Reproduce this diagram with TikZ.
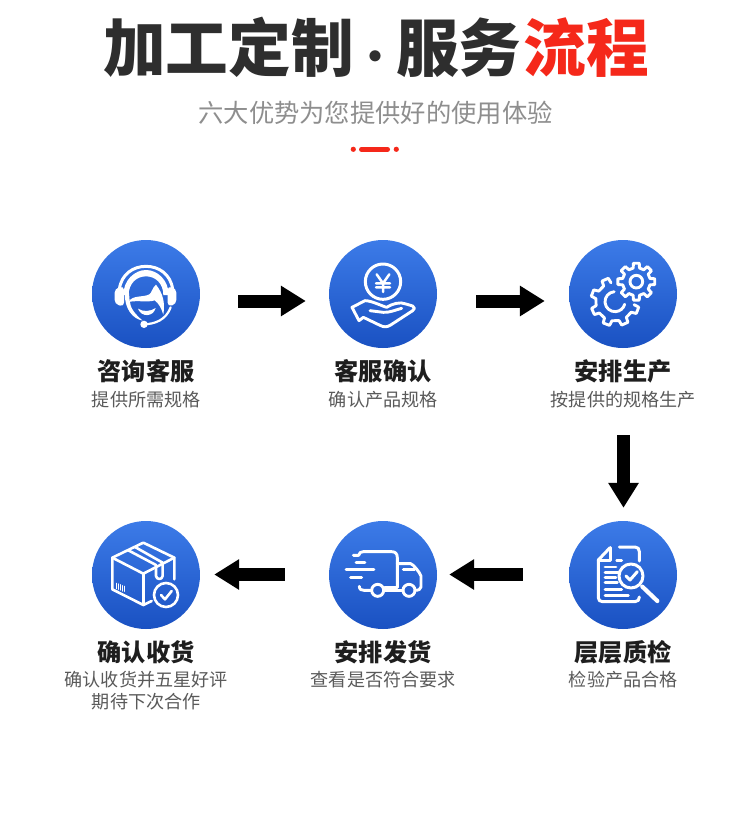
\documentclass[tikz,border=0pt]{standalone}
\usepackage{fontspec}
\setmainfont{Noto Sans CJK SC}
\usetikzlibrary{arrows.meta}
\definecolor{ttl}{HTML}{2E2E2E}
\definecolor{redc}{HTML}{F5281A}
\definecolor{subt}{HTML}{8E8E8E}
\definecolor{lab}{HTML}{1E1E1E}
\definecolor{sublab}{HTML}{5A5A5A}
\definecolor{topb}{HTML}{3C7BE8}
\definecolor{botb}{HTML}{1A51C2}
\tikzset{
 disc/.style={circle,minimum size=108pt,inner sep=0pt,top color=topb,bottom color=botb,draw=none},
 lbl/.style={inner sep=0pt,font=\fontsize{24.2}{28}\selectfont\bfseries,text=lab},
 sublbl/.style={inner sep=0pt,font=\fontsize{18.1}{22}\selectfont,text=sublab,align=center},
 blockarrow/.style={line width=13pt,draw=black,-{Triangle[width=29pt,length=25pt,sep=0pt]}},
 ic/.style={draw=white,line width=2.9pt,line cap=round,line join=round},
 zoomed/.style={x=0.33333pt,y=-0.33333pt}
}
\begin{document}
\begin{tikzpicture}[x=1pt,y=-1pt]
\useasboundingbox (0,0) rectangle (750,824);
\fill[white] (0,0) rectangle (750,824);
% heading
\node[inner sep=0pt,font=\fontsize{62.7}{70}\selectfont\bfseries,text=ttl] (title) at (376,47) {加工定制\hspace{1pt}{\fontsize{40}{40}\selectfont ·}\hspace{1pt}服务\hspace{2pt}\textcolor{redc}{流程}};
\node[inner sep=0pt,font=\fontsize{25.3}{30}\selectfont,text=subt] (subtitle) at (375.5,113) {六大优势为您提供好的使用体验};
\fill[redc] (353.3,149.3) circle (2.6);
\fill[redc] (396.3,149.3) circle (2.6);
\draw[redc,line width=5pt,line cap=round] (361.5,149.3) -- (387.5,149.3);
% discs
\node[disc] (n1) at (146,294) {};
\node[disc] (n2) at (383,294) {};
\node[disc] (n3) at (623,294) {};
\node[disc] (n4) at (623,575) {};
\node[disc] (n5) at (383,575) {};
\node[disc] (n6) at (146,575) {};
% labels
\node[lbl] (l1) at (146,371) {咨询客服};
\node[sublbl] (s1) at (146.2,400) {提供所需规格};
\node[lbl] (l2) at (383,371) {客服确认};
\node[sublbl] (s2) at (383.2,400) {确认产品规格};
\node[lbl] (l3) at (623,371) {安排生产};
\node[sublbl] (s3) at (623.2,400) {按提供的规格生产};
\node[lbl] (l4) at (623,652) {层层质检};
\node[sublbl] (s4) at (623.2,680) {检验产品合格};
\node[lbl] (l5) at (383,652) {安排发货};
\node[sublbl] (s5) at (383.2,680) {查看是否符合要求};
\node[lbl] (l6) at (146,652) {确认收货};
\node[sublbl] (s6a) at (146.2,680) {确认收货并五星好评};
\node[sublbl] (s6b) at (146.2,702) {期待下次合作};
% arrows
\draw[blockarrow,shorten <=38pt,shorten >=23pt] ([yshift=-7pt]n1.east) -- ([yshift=-7pt]n2.west);
\draw[blockarrow,shorten <=39pt,shorten >=24pt] ([yshift=-7pt]n2.east) -- ([yshift=-7pt]n3.west);
\draw[blockarrow,shorten <=87pt,shorten >=13pt] ([xshift=0.5pt]n3.south) -- ([xshift=0.5pt]n4.north);
\draw[blockarrow,shorten <=44pt,shorten >=14pt] ([yshift=0.5pt]n5.west) -- ([yshift=0.5pt]n6.east);
\draw[blockarrow,shorten <=46pt,shorten >=12pt] ([yshift=0.5pt]n4.west) -- ([yshift=0.5pt]n5.east);
% icon 1: headset
\begin{scope}[shift={(80,230)},zoomed]
\draw[ic,line width=3pt] (118,178) .. controls (124,132) and (160,109) .. (198,109) .. controls (236,109) and (272,132) .. (278,178);
\fill[white] (130,195) .. controls (130,150) and (165,120) .. (198,120) .. controls (232,120) and (266,150) .. (266,195) -- (250,195) .. controls (250,160) and (226,139) .. (198,139) .. controls (170,139) and (146,160) .. (146,195) -- cycle;
\fill[white,rounded corners=4pt] (104,176) -- (132,168) -- (132,230) -- (104,222) -- cycle;
\fill[white,rounded corners=4pt] (289,176) -- (263,168) -- (263,230) -- (289,222) -- cycle;
\fill[white] (146,216) .. controls (156,194) and (190,203) .. (208,193) .. controls (216,188) and (216,174) .. (228,164) .. controls (248,190) and (256,215) .. (250,254) .. controls (244,234) and (236,220) .. (224,211) .. controls (205,218) and (170,210) .. (146,216) -- cycle;
\fill[white] (134,190) .. controls (134,235) and (156,266) .. (188,272) .. controls (165,252) and (151,235) .. (149,213) -- (147,190) -- cycle;
\fill[white] (174,236) .. controls (190,246) and (210,245) .. (227,234) .. controls (220,262) and (183,262) .. (174,236) -- cycle;
\fill[white] (192,283) circle (11);
\draw[ic,line width=2.2pt] (192,283) .. controls (225,282) and (258,270) .. (272,232);
\end{scope}
% icon 2: coin in hand
\begin{scope}[shift={(320,230)},zoomed]
\draw[ic,line width=3pt] (189,155) circle (53);
\draw[ic,line width=2.5pt] (170,133) -- (189,160) -- (208,133) (168,160) -- (210,160) (168,172) -- (210,172) (189,160) -- (189,186);
\draw[ic] (96,232) -- (135,212) .. controls (155,212) and (185,228) .. (200,232) .. controls (215,222) and (240,214) .. (258,222) -- (278,228) .. controls (285,232) and (285,238) .. (278,242) -- (212,285) .. controls (200,292) and (192,292) .. (180,286) -- (130,262) -- (117,272) -- cycle;
\draw[ic] (150,242) -- (190,247) .. controls (210,248) and (225,240) .. (245,235);
\end{scope}
% icon 3: gears
\begin{scope}[shift={(560,230)},zoomed]
\begin{scope}[shift={(229,155)}]
\draw[ic] (0,0) circle (19);
\draw[ic] (-13:42) \foreach \a in {0,45,...,315}{ -- ({\a-13}:42) -- ({\a-9}:56) -- ({\a+9}:56) -- ({\a+13}:42) } -- cycle;
\end{scope}
\begin{scope}[shift={(165,215)}]
\draw[ic] (265:30) arc[start angle=265,end angle=15,radius=30];
\draw[ic] (258:58) \foreach \a in {246,201,156,111,66,21}{ -- ({\a+12}:58) -- ({\a+8}:73) -- ({\a-8}:73) -- ({\a-12}:58) };
\end{scope}
\end{scope}
% icon 4: truck
\begin{scope}[shift={(320,511)},zoomed]
\draw[ic] (100,133) -- (116,133) .. controls (118,125) and (122,122) .. (130,122) -- (215,122) .. controls (226,122) and (232,128) .. (232,140) -- (232,230) -- (193,230);
\draw[ic] (173,238) circle (18);
\draw[ic] (267,238) circle (18);
\draw[ic] (118,226) .. controls (118,236) and (125,238) .. (132,238) -- (155,238);
\draw[ic] (191,238) -- (249,238);
\draw[ic] (232,158) -- (272,158) .. controls (280,160) and (300,185) .. (303,195) -- (303,228) .. controls (303,235) and (295,238) .. (285,238);
\draw[ic] (250,176) -- (284,176);
\draw[ic] (108,155) -- (135,155) (78,176) -- (162,176) (92,199) -- (125,199);
\end{scope}
% icon 5: box
\begin{scope}[shift={(80,511)},zoomed]
\draw[ic,line width=2.6pt] (97,140) -- (190,95) -- (283,140) -- (283,205);
\draw[ic,line width=2.6pt] (97,140) -- (190,188) -- (283,140);
\draw[ic,line width=2.6pt] (97,140) -- (97,235) -- (190,282) -- (215,270);
\draw[ic,line width=2.6pt] (190,188) -- (190,282);
\draw[ic,line width=2.6pt] (145,118) -- (228,162) -- (228,195) .. controls (230,207) and (246,207) .. (248,195) -- (248,155) -- (165,108);
\draw[ic,line width=1.2pt] (110,217) -- (110,233) (116,219) -- (116,235) (122,221) -- (122,237) (128,224) -- (128,240) (133,226) -- (133,241);
\draw[ic,line width=2.6pt] (258,252) circle (36);
\draw[ic,line width=2.6pt] (243,252) -- (255,265) -- (275,240);
\end{scope}
% icon 6: inspection
\begin{scope}[shift={(560,511)},zoomed]
\draw[ic,line width=3pt] (178,108) -- (225,108) .. controls (234,108) and (238,114) .. (238,122) -- (238,150);
\draw[ic,line width=3pt] (150,110) -- (115,147) -- (115,260) .. controls (115,268) and (120,272) .. (128,272) -- (225,272) .. controls (234,272) and (238,266) .. (238,258);
\draw[ic,line width=3pt] (150,110) -- (150,148) -- (115,148);
\draw[ic,line width=2.8pt] (170,148) -- (185,148) (135,168) -- (168,168) (135,185) -- (175,185) (135,200) -- (168,200) (135,215) -- (172,215) (135,235) -- (185,235) (135,253) -- (205,253);
\draw[ic,line width=3pt] (213,195) circle (36);
\draw[ic,line width=4.2pt] (247,227) -- (292,270);
\draw[ic,line width=3pt] (198,195) -- (210,207) -- (232,182);
\end{scope}
\end{tikzpicture}
\end{document}
